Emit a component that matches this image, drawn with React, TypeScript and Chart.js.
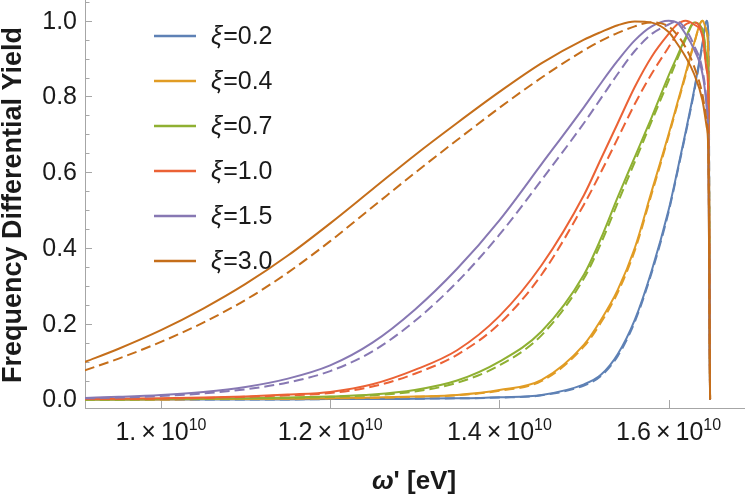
import { useEffect, useRef } from "react"
import { Chart, registerables } from "chart.js"

Chart.register(...registerables)

// omega' in units of 1e10 eV
const OMEGA = [0.91, 0.95, 1.0, 1.05, 1.1, 1.15, 1.2, 1.25, 1.3, 1.35, 1.4, 1.45, 1.5, 1.52, 1.54, 1.56, 1.58, 1.6, 1.61, 1.62, 1.63, 1.64, 1.645, 1.647, 1.649]

const XI = ["0.2", "0.4", "0.7", "1.0", "1.5", "3.0"]
const COLORS = ["#5E81B5", "#E19C24", "#8FB032", "#EB6235", "#8778B3", "#C56E1A"]

// solid curves
const XI02 = [0, 0, 0, 0, 0, 0, 0.001, 0.001, 0.002, 0.003, 0.006, 0.012, 0.04, 0.065, 0.12, 0.21, 0.34, 0.5, 0.6, 0.705, 0.815, 0.94, 1.0, 0.96, 0]
const XI04 = [0, 0, 0, 0.001, 0.001, 0.002, 0.003, 0.005, 0.008, 0.012, 0.025, 0.052, 0.145, 0.21, 0.29, 0.4, 0.55, 0.7, 0.78, 0.86, 0.94, 1.0, 0.97, 0.9, 0]
const XI07 = [0, 0, 0.001, 0.002, 0.003, 0.005, 0.008, 0.013, 0.025, 0.05, 0.1, 0.18, 0.33, 0.425, 0.535, 0.64, 0.745, 0.855, 0.905, 0.955, 0.995, 0.975, 0.9, 0.82, 0]
const XI10 = [0.001, 0.002, 0.003, 0.005, 0.008, 0.013, 0.02, 0.04, 0.078, 0.13, 0.22, 0.355, 0.54, 0.635, 0.73, 0.825, 0.905, 0.965, 0.99, 1.0, 0.99, 0.96, 0.87, 0.8, 0]
const XI15 = [0.004, 0.007, 0.012, 0.02, 0.033, 0.055, 0.09, 0.15, 0.237, 0.345, 0.473, 0.622, 0.772, 0.835, 0.895, 0.948, 0.985, 1.0, 0.995, 0.965, 0.925, 0.86, 0.77, 0.66, 0]
const XI30 = [0.099, 0.134, 0.183, 0.24, 0.305, 0.38, 0.465, 0.555, 0.645, 0.73, 0.812, 0.888, 0.95, 0.97, 0.988, 0.998, 0.995, 0.97, 0.94, 0.905, 0.86, 0.79, 0.72, 0.65, 0]

// dashed curves
const XI02_D = [0, 0, 0, 0, 0, 0, 0.001, 0.001, 0.002, 0.003, 0.005, 0.011, 0.037, 0.062, 0.115, 0.205, 0.335, 0.495, 0.596, 0.7, 0.81, 0.935, 1.0, 0.96, 0]
const XI04_D = [0, 0, 0, 0.001, 0.001, 0.002, 0.003, 0.004, 0.007, 0.011, 0.023, 0.049, 0.14, 0.203, 0.283, 0.393, 0.543, 0.695, 0.775, 0.855, 0.938, 1.0, 0.972, 0.9, 0]
const XI07_D = [0, 0, 0.001, 0.002, 0.003, 0.004, 0.007, 0.011, 0.021, 0.044, 0.09, 0.17, 0.32, 0.412, 0.52, 0.627, 0.735, 0.842, 0.897, 0.95, 0.993, 0.978, 0.905, 0.825, 0]
const XI10_D = [0.001, 0.001, 0.002, 0.004, 0.007, 0.011, 0.017, 0.034, 0.068, 0.118, 0.2, 0.33, 0.515, 0.6, 0.69, 0.78, 0.86, 0.93, 0.965, 0.99, 0.995, 0.963, 0.875, 0.805, 0]
const XI15_D = [0.003, 0.005, 0.009, 0.016, 0.027, 0.045, 0.075, 0.127, 0.207, 0.31, 0.435, 0.58, 0.73, 0.795, 0.86, 0.92, 0.965, 0.99, 0.998, 0.978, 0.935, 0.87, 0.78, 0.67, 0]
const XI30_D = [0.077, 0.108, 0.152, 0.203, 0.263, 0.335, 0.418, 0.508, 0.598, 0.685, 0.77, 0.85, 0.922, 0.947, 0.968, 0.985, 0.996, 0.985, 0.963, 0.93, 0.88, 0.805, 0.735, 0.665, 0]

const SOLID = [XI02, XI04, XI07, XI10, XI15, XI30]
const DASHED = [XI02_D, XI04_D, XI07_D, XI10_D, XI15_D, XI30_D]

const X_TICKS = [1.0, 1.2, 1.4, 1.6]
const X_TICK_LABELS = ["1.", "1.2", "1.4", "1.6"]
const Y_TICKS = [0, 0.2, 0.4, 0.6, 0.8, 1.0]
const Y_TICK_LABELS = ["0.0", "0.2", "0.4", "0.6", "0.8", "1.0"]
const Y_MINOR_TICKS = [0.05, 0.1, 0.15, 0.25, 0.3, 0.35, 0.45, 0.5, 0.55, 0.65, 0.7, 0.75, 0.85, 0.9, 0.95, 1.05]

const FONT = '"Liberation Sans", Arial, sans-serif'
const AXIS_COLOR = "#a6a6a6"
const TEXT_COLOR = "#1a1a1a"

const mmaAxes = {
  id: "mmaAxes",
  beforeDatasetsDraw(chart: any) {
    const { ctx, chartArea: a, scales } = chart
    const x = scales.x
    const y = scales.y
    ctx.save()
    ctx.strokeStyle = AXIS_COLOR
    ctx.lineWidth = 1
    ctx.beginPath()
    ctx.moveTo(a.left + 0.5, 0)
    ctx.lineTo(a.left + 0.5, a.bottom)
    ctx.moveTo(a.left, a.bottom + 0.5)
    ctx.lineTo(a.right, a.bottom + 0.5)
    Y_TICKS.forEach(v => {
      const py = Math.round(y.getPixelForValue(v)) + 0.5
      ctx.moveTo(a.left, py)
      ctx.lineTo(a.left + 7, py)
    })
    Y_MINOR_TICKS.forEach(v => {
      const py = Math.round(y.getPixelForValue(v)) + 0.5
      ctx.moveTo(a.left, py)
      ctx.lineTo(a.left + 4.5, py)
    })
    X_TICKS.forEach(v => {
      const px = Math.round(x.getPixelForValue(v)) + 0.5
      ctx.moveTo(px, a.bottom)
      ctx.lineTo(px, a.bottom - 8)
    })
    ctx.stroke()
    ctx.restore()
  },
  afterDraw(chart: any) {
    const { ctx, chartArea: a, scales } = chart
    const x = scales.x
    const y = scales.y
    ctx.save()
    ctx.fillStyle = TEXT_COLOR

    // y tick labels
    ctx.font = `25px ${FONT}`
    ctx.textAlign = "right"
    ctx.textBaseline = "middle"
    Y_TICKS.forEach((v, i) => {
      ctx.fillText(Y_TICK_LABELS[i], a.left - 8, y.getPixelForValue(v) + 1)
    })

    // x tick labels: m.×10^10
    ctx.textBaseline = "alphabetic"
    ctx.textAlign = "left"
    X_TICKS.forEach((v, i) => {
      const main = `${X_TICK_LABELS[i]}\u2009\u00d7\u200910`
      ctx.font = `25px ${FONT}`
      const w1 = ctx.measureText(main).width
      ctx.font = `16px ${FONT}`
      const w2 = ctx.measureText("10").width
      const left = x.getPixelForValue(v) - (w1 + w2) / 2
      const base = 440
      ctx.font = `25px ${FONT}`
      ctx.fillText(main, left, base)
      ctx.font = `16px ${FONT}`
      ctx.fillText("10", left + w1, base - 10)
    })

    // x axis title
    ctx.font = `italic bold 26px ${FONT}`
    const omega = "\u03c9"
    const wO = ctx.measureText(omega).width
    ctx.font = `bold 26px ${FONT}`
    const rest = "' [eV]"
    const wR = ctx.measureText(rest).width
    const tx = 414 - (wO + wR) / 2
    ctx.font = `italic bold 26px ${FONT}`
    ctx.fillText(omega, tx, 489)
    ctx.font = `bold 26px ${FONT}`
    ctx.fillText(rest, tx + wO, 489)

    // y axis title
    ctx.translate(21, 205)
    ctx.rotate(-Math.PI / 2)
    ctx.font = `bold 27px ${FONT}`
    ctx.textAlign = "center"
    ctx.fillText("Frequency Differential Yield", 0, 0)
    ctx.restore()

    // legend
    ctx.save()
    const rows = chart.data.datasets.filter((d: any) => !d.borderDash)
    rows.forEach((d: any, i: number) => {
      const cy = 36 + i * 45
      ctx.strokeStyle = d.borderColor
      ctx.lineWidth = 2.5
      ctx.beginPath()
      ctx.moveTo(154, cy)
      ctx.lineTo(196, cy)
      ctx.stroke()
      ctx.fillStyle = TEXT_COLOR
      ctx.textBaseline = "middle"
      ctx.textAlign = "left"
      ctx.font = `italic 25px ${FONT}`
      ctx.fillText("\u03be", 211, cy + 1)
      const wx = ctx.measureText("\u03be").width
      ctx.font = `25px ${FONT}`
      ctx.fillText(`=${d.label}`, 211 + wx + 1, cy + 1)
    })
    ctx.restore()
  },
}

export default function App() {
  const chartRef = useRef<HTMLCanvasElement>(null)
  const chartInstance = useRef<Chart | null>(null)

  useEffect(() => {
    if (!chartRef.current) return
    if (chartInstance.current) {
      chartInstance.current.destroy()
    }
    const ctx = chartRef.current.getContext("2d")
    if (!ctx) return

    const toPoints = (ys: number[]) => OMEGA.map((w, i) => ({ x: w, y: ys[i] }))

    const solid = SOLID.map((ys, i) => ({
      label: XI[i],
      data: toPoints(ys),
      borderColor: COLORS[i],
      borderWidth: 2,
      pointRadius: 0,
      fill: false,
      cubicInterpolationMode: "monotone" as const,
      order: 20 - 2 * i,
    }))
    const dashed = DASHED.map((ys, i) => ({
      label: XI[i],
      data: toPoints(ys),
      borderColor: COLORS[i],
      borderWidth: 2,
      borderDash: [10, 5],
      pointRadius: 0,
      fill: false,
      cubicInterpolationMode: "monotone" as const,
      order: 19 - 2 * i,
    }))

    chartInstance.current = new Chart(ctx, {
      type: "line",
      data: { datasets: [...solid, ...dashed] },
      options: {
        animation: false,
        responsive: true,
        maintainAspectRatio: false,
        layout: { padding: { left: 85, right: 2, top: 0, bottom: 90 } },
        scales: {
          x: { type: "linear", display: false, min: 0.9102, max: 1.6903 },
          y: { type: "linear", display: false, min: -0.0225, max: 1.0547 },
        },
        plugins: {
          legend: { display: false },
          tooltip: { enabled: false },
        },
      },
      plugins: [mmaAxes],
    })

    return () => {
      if (chartInstance.current) {
        chartInstance.current.destroy()
        chartInstance.current = null
      }
    }
  }, [])

  return (
    <div style={{ position: "absolute", left: 0, top: 0, width: 747, height: 498, background: "#fff" }}>
      <canvas ref={chartRef} />
    </div>
  )
}
